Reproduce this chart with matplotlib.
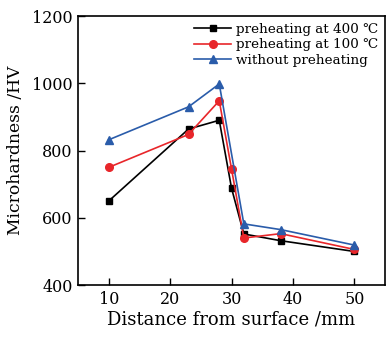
import matplotlib
matplotlib.use("Agg")
import matplotlib.pyplot as plt

x_all = [10, 23, 28, 30, 32, 38, 50]
y_400 = [650, 864, 890, 688, 552, 532, 500]
y_100 = [750, 848, 948, 745, 540, 553, 506]
x_none = [10, 23, 28, 32, 38, 50]
y_none = [832, 930, 998, 582, 565, 519]

labels = ["preheating at 400 ℃", "preheating at 100 ℃", "without preheating"]
xticks = [10, 20, 30, 40, 50]
yticks = [400, 600, 800, 1000, 1200]

plt.rcParams['font.family'] = ['DejaVu Serif']
plt.rcParams['mathtext.fontset'] = 'dejavuserif'

fig = plt.figure(figsize=(3.87, 3.37), dpi=100)
ax = fig.add_axes([0.2016, 0.154, 0.7934, 0.7985])

ax.plot(x_all, y_400, color='black', marker='s', ms=5, lw=1.2, label=labels[0])
ax.plot(x_all, y_100, color='#e8262a', marker='o', ms=5.5, lw=1.2, label=labels[1])
ax.plot(x_none, y_none, color='#2a5caa', marker='^', ms=6, lw=1.2, label=labels[2])

ax.set_xlim(5, 55)
ax.set_ylim(400, 1200)
ax.set_xticks(xticks)
ax.set_yticks(yticks)
ax.tick_params(direction='in', length=5, width=1, labelsize=11.5, pad=4)
for s in ax.spines.values():
    s.set_linewidth(1.2)

ax.set_xlabel('Distance from surface /mm', fontsize=13, labelpad=2)
ax.set_ylabel('Microhardness /HV', fontsize=12.3, labelpad=6)

leg = ax.legend(loc='upper right', frameon=False, fontsize=9.7, handlelength=2.7,
                labelspacing=0.2, borderpad=0.3, handletextpad=0.4,
                borderaxespad=0.2)

fig.savefig('out.png', dpi=100)
